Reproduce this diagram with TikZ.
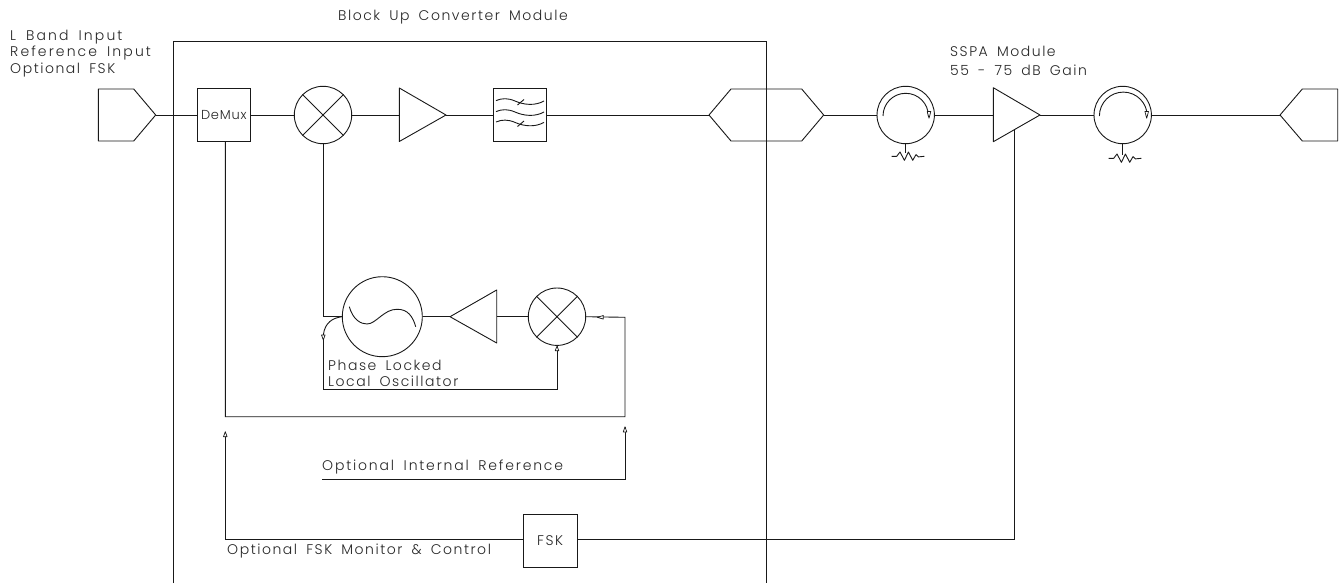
\documentclass[tikz,border=0pt]{standalone}
\usepackage{fontspec}
\setmainfont{Poppins Light}
\newfontfamily\cad[LetterSpace=11,WordSpace=1.7]{Poppins Light}
\newfontfamily\cadw[LetterSpace=13,WordSpace=1.7]{Poppins Light}
\newfontfamily\cadx[LetterSpace=15,WordSpace=1.7]{Poppins Light}
\newfontfamily\cadbox[LetterSpace=6]{Poppins Light}
\usetikzlibrary{calc}
\tikzset{
  x=1pt,y=-1pt,
  wire/.style={draw=black!90,line width=0.9pt},
  shapeline/.style={draw=black!90,line width=0.9pt,line join=round},
  lbl/.style={anchor=west,inner sep=0pt,font=\cad\fontsize{14}{15}\selectfont,text=black!85},
  lblw/.style={lbl,font=\cadw\fontsize{14}{15}\selectfont},
  lblx/.style={lbl,font=\cadx\fontsize{14}{15}\selectfont},
  boxnode/.style={draw=black!90,line width=0.9pt,minimum width=53.5pt,minimum height=52.5pt,inner sep=0pt,font=\cadbox\fontsize{13}{15}\selectfont,text=black!85},
  circ/.style={circle,draw=black!90,line width=0.9pt,minimum size=#1,inner sep=0pt},
  tipa/.style={draw=black!90,fill=white,line width=0.7pt,line join=round},
}
\newcommand{\crossin}[1]{\draw[shapeline] (#1.45)--(#1.225) (#1.135)--(#1.315);}
\newcommand{\resist}[1]{\draw[shapeline] ($(#1)+(-14,3.3)$)--++(5,0)--++(3.3,-4.3)--++(4.4,8.3)--++(4,-8.3)--++(4.3,8.3)--++(3.3,-5.7)--++(2.3,2.3)--++(6,-0.6);}
\newcommand{\circinner}[3]{\draw[shapeline] ($(#1)+(#2,1)$) arc[start angle=180,end angle=360,radius=#3];}
\begin{document}
\begin{tikzpicture}
\useasboundingbox (0,0) rectangle (1340,586);
\fill[white] (0,0) rectangle (1340,586);
% frame
\coordinate (fbl) at (173.7,583); \coordinate (ftl) at (173.7,41); \coordinate (ftr) at (766,41); \coordinate (fbr) at (766,583);
\draw[wire] (fbl)--(ftl)--(ftr)--(fbr);
% labels
\node[lbl] (ttl) at (338,17) {Block Up Converter Module};
\node[lblx] (l1) at (10,37) {L Band Input};
\node[lblx] (l2) at (10,53.5) {Reference Input};
\node[lbl] (l3) at (10,70) {Optional FSK};
\node[lbl] (s1) at (950,51) {SSPA Module};
\node[lbl] (s3) at (950,70) {55 - 75 dB Gain};
\node[lbl] (p1) at (328,365) {Phase Locked};
\node[lbl] (p2) at (328,381) {Local Oscillator};
\node[lblw] (oi) at (322,467) {Optional Internal Reference};
\node[lbl] (of) at (227,551) {Optional FSK Monitor \& Control};
% input connector
\draw[shapeline] (98.3,89)--(133.7,89)--(155.7,115)--(133.7,141)--(98.3,141)--cycle;
\coordinate (inp) at (155.7,115);
\node[boxnode] (demux) at (223.8,115) {DeMux};
\node[circ=57.4pt] (mx1) at (323,115) {}; \crossin{mx1}
\draw[shapeline] (399.3,88)--(446,115)--(399.3,141.5)--cycle;
\coordinate (a1i) at (399.3,115); \coordinate (a1o) at (446,115);
\node[boxnode] (flt) at (520,115) {};
\foreach \yy in {0,11}{
 \draw[shapeline] (496,100.6+\yy) .. controls (502,98+\yy) and (508,98+\yy) .. (515,101+\yy) .. controls (524,105+\yy) and (535,106+\yy) .. (544,101+\yy);
}
\draw[shapeline] (496,122) .. controls (502,119.4) and (508,119.4) .. (515,122.4) .. controls (524,126.4) and (535,127.4) .. (544,122.4);
\draw[shapeline] (517.5,105)--(524,99.5) (517.5,126.5)--(524,121);
\draw[shapeline] (709,115)--(731,89)--(801.7,89)--(823.7,115)--(801.7,141)--(731,141)--cycle;
\coordinate (cL) at (709,115); \coordinate (cR) at (823.7,115);
\node[circ=57.4pt] (c1) at (905.7,115) {};
\draw[shapeline] (993.3,87.7)--(1040,115)--(993.3,141.7)--cycle;
\coordinate (a2i) at (993.3,115); \coordinate (a2o) at (1040,115); \coordinate (a2b) at (1014,129);
\node[circ=57.4pt] (c2) at (1122.7,115) {};
\draw[shapeline] (1337.7,89)--(1302.3,89)--(1280,115)--(1302.3,141)--(1337.7,141)--cycle;
\coordinate (outp) at (1280,115);
% wires top
\draw[wire] (inp)--(demux.west);
\draw[wire] (demux.east)--(mx1.west);
\draw[wire] (mx1.east)--(a1i);
\draw[wire] (a1o)--(flt.west);
\draw[wire] (flt.east)--(cL);
\draw[wire] (cR)--(c1.west);
\draw[wire] (c1.east)--(a2i);
\draw[wire] (a2o)--(c2.west);
\draw[wire] (c2.east)--(outp);
% circulator inner
\circinner{c1}{-22.7}{22.7}
\draw[tipa] (927.2,111.5)--(930.8,111.5)--(929,118.3)--cycle;
\circinner{c2}{-23.3}{23.9}
\draw[tipa] (1144.9,111.5)--(1148.5,111.5)--(1146.7,118.3)--cycle;
% resistors
\coordinate (r1) at (905.7,153);
\coordinate (r2) at (1122.7,155);
\draw[wire] (c1.south)--(r1);
\draw[wire] (c2.south)--(r2);
\resist{r1} \resist{r2}
% oscillator
\node[circ=80pt] (vco) at (382.3,316.7) {};
\draw[shapeline] (349.3,306.7) .. controls (353,320) and (361,324) .. (367,324) .. controls (376,324) and (384,309) .. (397,309.3) .. controls (408,309) and (413,317) .. (415.7,326.7);
\draw[shapeline] (496.7,290)--(450,316.7)--(496.7,343)--cycle;
\coordinate (a3o) at (450,316.7); \coordinate (a3i) at (496.7,316.7);
\node[circ=57.4pt] (mx2) at (557,316.7) {}; \crossin{mx2}
\draw[wire] (mx1.south)--(323,316.7)--(vco.west);
\draw[wire] (vco.east)--(a3o);
\draw[wire] (a3i)--(mx2.west);
% PLL loop
\coordinate (ftap) at (323.3,335);
\draw[wire] (vco.west) .. controls (333,318) and (325,322) .. (ftap);
\draw[wire] (323.3,340)--(323.3,389.3)--(557,389.3)--(mx2.south);
\draw[tipa] (323.3,340)--(321.5,335)--(325.1,335)--cycle;
\draw[tipa] (557,346)--(555.2,350.7)--(558.8,350.7)--cycle;
% ref line
\coordinate (rtc) at (625,317.3);
\draw[wire] (mx2.east)--(rtc)--(625,416.7)--(225.3,416.7)--(225.3,141.3);
\draw[tipa] (597.3,317.3)--(603.3,315.5)--(603.3,319.1)--cycle;
% optional ref
\coordinate (oiL) at (322,479.3); \coordinate (oiT) at (625,427);
\draw[wire] (oiL)--(625,479.3)--(oiT);
\draw[tipa] (625,426.7)--(623.2,432)--(626.8,432)--cycle;
% FSK
\node[boxnode,font=\cad\fontsize{14}{15}\selectfont] (fsk) at (550.2,540.7) {FSK};
\coordinate (fskL) at (225.3,539);
\coordinate (fskT) at (225.3,436);
\draw[wire] (fsk.west |- fskL)--(fskL)--(fskT);
\draw[tipa] (225.3,431.7)--(223.5,436.7)--(227.1,436.7)--cycle;
\draw[wire] (fsk.east |- fskL)--(1014,539)--(a2b);
\end{tikzpicture}
\end{document}
